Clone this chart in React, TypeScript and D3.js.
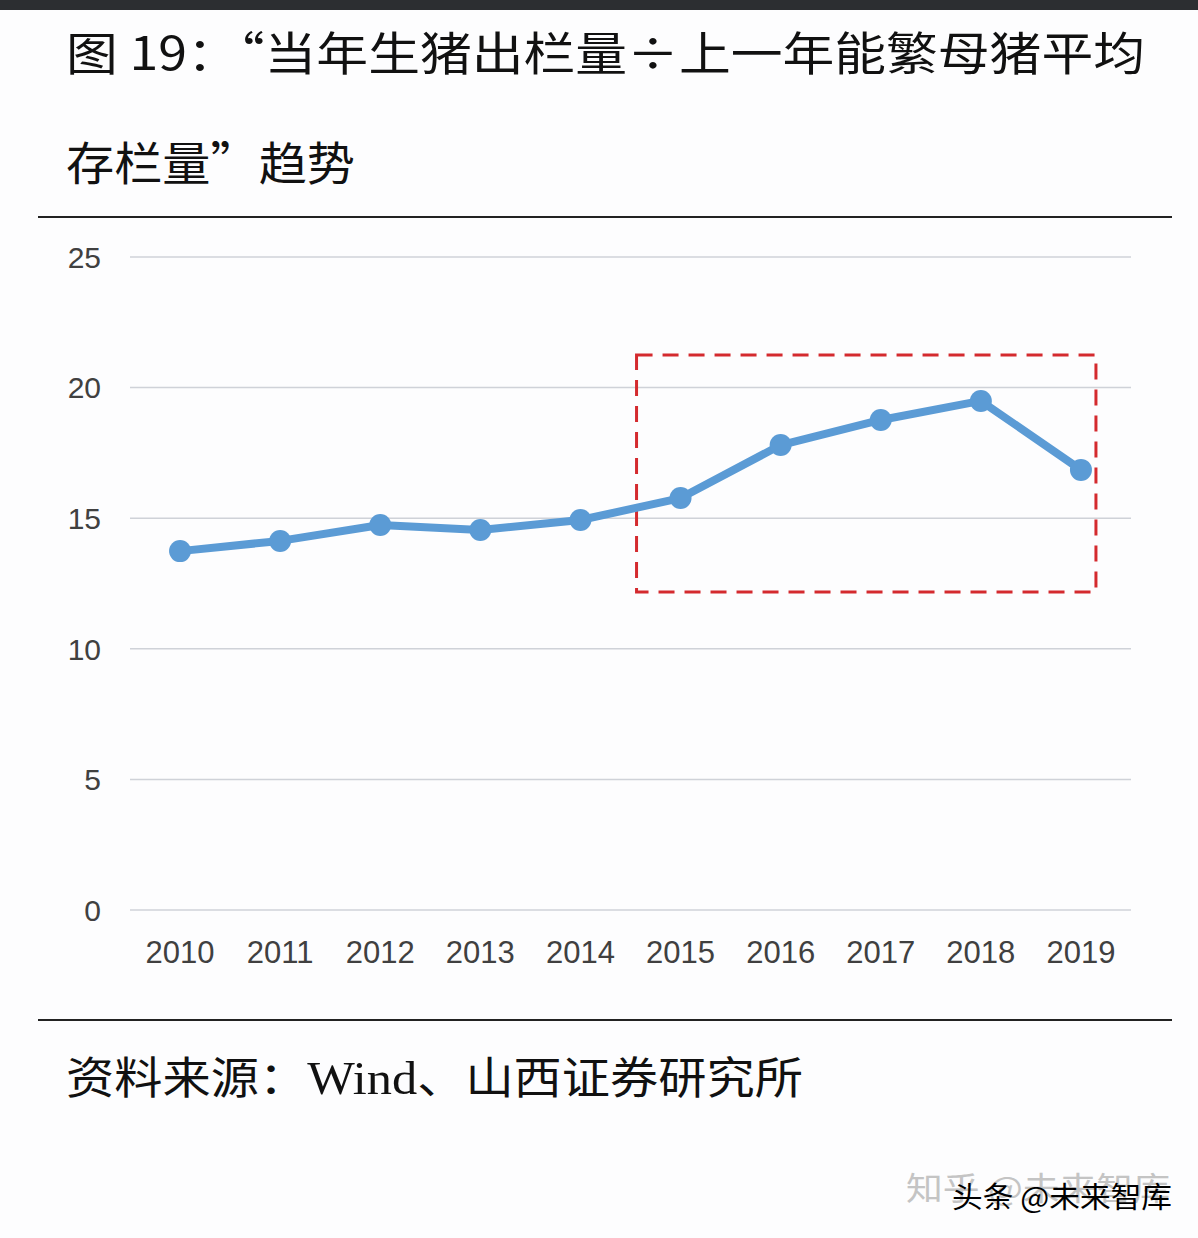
import React from "react";
import * as d3 from "d3";

const years = ["2010", "2011", "2012", "2013", "2014", "2015", "2016", "2017", "2018", "2019"];
const ratio = [13.74, 14.13, 14.74, 14.55, 14.93, 15.77, 17.8, 18.76, 19.49, 16.85];
const yTicks = [0, 5, 10, 15, 20, 25];
const highlightYears = ["2015", "2019"];
const highlightRange = [12.17, 21.25];

const W = 1198;
const H = 1238;
const cjk = '"Noto Sans CJK SC", "Noto Sans", sans-serif';

export default function App() {
  const x = d3.scaleBand<string>().domain(years).range([130, 1131]);
  const y = d3.scaleLinear().domain([0, 25]).range([910, 257]);
  const cx = (d: string) => (x(d) as number) + x.bandwidth() / 2;

  const line = d3
    .line<number>()
    .x((_, i) => cx(years[i]))
    .y((v) => y(v));

  const rx0 = cx(highlightYears[0]) - 44;
  const rx1 = cx(highlightYears[1]) + 15;
  const ry0 = y(highlightRange[1]);
  const ry1 = y(highlightRange[0]);

  return (
    <svg
      width={W}
      height={H}
      style={{ position: "absolute", left: 0, top: 0, background: "#fdfdfe" }}
    >
      <rect x={0} y={0} width={W} height={H} fill="#fdfdfe" />
      <rect x={0} y={0} width={W} height={10} fill="#2c2e31" />

      {/* Title */}
      <text
        x={66}
        y={70}
        fontFamily={cjk}
        fontSize={46}
        fontWeight={400}
        fill="#111"
        textLength={1079}
        lengthAdjust="spacingAndGlyphs"
      >
        图 19：“当年生猪出栏量÷上一年能繁母猪平均
      </text>
      <text
        x={66}
        y={180}
        fontFamily={cjk}
        fontSize={46}
        fontWeight={400}
        fill="#111"
        textLength={289}
        lengthAdjust="spacingAndGlyphs"
      >
        存栏量”趋势
      </text>

      <line x1={38} x2={1172} y1={217} y2={217} stroke="#222" strokeWidth={2} />

      {/* Gridlines */}
      {yTicks.map((t) => (
        <g key={t}>
          <line
            x1={130}
            x2={1131}
            y1={y(t)}
            y2={y(t)}
            stroke="#cfd2d8"
            strokeWidth={1.5}
          />
          <text
            x={101}
            y={y(t)}
            dy="0.36em"
            textAnchor="end"
            fontFamily='"Liberation Sans", Arial, sans-serif'
            fontSize={30}
            fill="#404040"
          >
            {t}
          </text>
        </g>
      ))}

      {/* X labels */}
      {years.map((yr) => (
        <text
          key={yr}
          x={cx(yr)}
          y={963}
          textAnchor="middle"
          fontFamily='"Liberation Sans", Arial, sans-serif'
          fontSize={31}
          fill="#404040"
        >
          {yr}
        </text>
      ))}

      {/* Highlight box */}
      <rect
        x={rx0}
        y={ry0}
        width={rx1 - rx0}
        height={ry1 - ry0}
        fill="none"
        stroke="#d42a2e"
        strokeWidth={3}
        strokeDasharray="16 10"
      />

      {/* Line */}
      <path
        d={line(ratio) || ""}
        fill="none"
        stroke="#5b9bd5"
        strokeWidth={8}
        strokeLinejoin="round"
      />
      {ratio.map((v, i) => (
        <circle key={years[i]} cx={cx(years[i])} cy={y(v)} r={11} fill="#5b9bd5" />
      ))}

      <line x1={38} x2={1172} y1={1020} y2={1020} stroke="#222" strokeWidth={2} />

      {/* Source */}
      <text
        x={66}
        y={1094}
        fontFamily={cjk}
        fontSize={44}
        fill="#111"
        textLength={737}
        lengthAdjust="spacingAndGlyphs"
      >
        资料来源：
        <tspan fontFamily='"Liberation Serif", "Times New Roman", serif' fontSize={46}>
          Wind
        </tspan>
        、山西证券研究所
      </text>

      {/* Watermarks (overlapping, as in the source image) */}
      <text
        x={906}
        y={1200}
        fontFamily={cjk}
        fontSize={32}
        fill="#c4c4c4"
        textLength={264}
        lengthAdjust="spacingAndGlyphs"
      >
        知乎 @未来智库
      </text>
      <text
        x={952}
        y={1208}
        fontFamily={cjk}
        fontSize={29}
        fill="#000"
        textLength={220}
        lengthAdjust="spacingAndGlyphs"
      >
        头条 @未来智库
      </text>
    </svg>
  );
}
